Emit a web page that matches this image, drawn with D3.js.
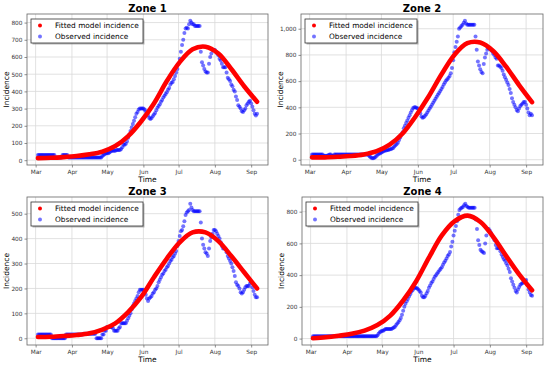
<!DOCTYPE html>
<html>
<head>
<meta charset="utf-8">
<script src="https://cdn.jsdelivr.net/npm/d3@7"></script>
<style>
  body { margin: 0; background: #fff; }
  text { font-family: "DejaVu Sans", sans-serif; }
</style>
</head>
<body>
<div id="chart"></div>
<script>
// observed daily incidence, starting 3 March 2020
var startDate = new Date(2020, 2, 3);
var fitStep = 11; // days between fitted values

var zoneNames = ["Zone 1", "Zone 2", "Zone 3", "Zone 4"];

var obsZone1 = [
  30,30,30,30,30,30,30,30,30,30,30,30,30,30,30,
  15,15,15,15,15,15,
  30,30,30,30,30,
  15,15,15,15,15,15,15,15,15,15,15,15,15,15,15,15,15,15,15,15,15,15,15,15,15,15,15,15,15,
  25,30,35,40,40,40,
  45,50,55,55,55,55,60,60,60,60,
  65,75,90,90,95,110,130,150,
  170,190,210,230,250,270,280,295,300,300,300,300,
  295,285,275,260,245,240,245,
  255,265,275,290,305,315,325,340,350,365,375,
  385,395,410,420,440,450,455,470,490,510,530,
  560,590,630,670,700,740,765,770,765,790,
  810,800,790,790,780,780,780,780,780,
  630,570,550,530,515,510,510,560,600,620,640,640,
  640,630,620,610,590,580,560,540,540,540,510,480,470,460,440,430,410,400,
  370,350,320,310,300,285,280,290,300,320,330,340,
  345,330,310,290,270,260,270
];
var obsZone2 = [
  40,40,40,40,40,40,40,40,40,40,
  30,30,30,30,35,40,40,30,30,
  40,40,40,40,40,40,40,40,40,40,40,40,40,40,40,40,40,40,40,40,40,40,40,40,40,40,40,40,
  40,35,25,18,12,12,15,
  20,30,40,45,50,55,60,
  65,70,70,75,75,80,80,85,90,100,110,
  120,130,150,170,190,210,240,260,280,
  300,320,340,360,380,395,400,400,395,390,
  375,355,330,320,325,335,345,
  360,375,390,405,420,435,450,465,480,495,510,
  525,540,555,575,590,605,615,625,640,660,700,
  760,820,860,900,940,1000,1010,1020,1030,1045,
  1060,1040,1030,1030,1030,1030,1030,1030,1030,
  940,840,750,720,690,670,660,730,780,810,840,850,
  850,840,830,810,800,780,770,720,720,710,700,680,650,630,610,590,570,540,
  510,470,440,420,400,380,370,390,410,420,430,440,
  440,420,390,360,340,350,340
];
var obsZone3 = [
  15,15,15,15,15,15,15,15,15,15,15,15,
  0,0,0,0,0,0,0,0,0,0,0,0,
  15,15,15,15,15,15,15,15,15,15,15,15,15,15,15,18,18,18,18,18,18,18,18,18,18,18,
  0,0,0,0,0,
  15,15,30,30,45,
  45,45,45,45,40,30,30,30,30,40,
  45,60,60,60,60,60,70,80,90,100,
  115,130,140,150,160,170,185,195,195,195,195,
  190,175,160,150,160,165,170,
  180,185,195,200,210,225,235,245,255,260,270,
  275,285,290,300,310,315,325,330,340,350,370,
  390,410,430,435,450,470,495,505,510,515,
  540,525,515,510,510,510,510,510,510,
  465,400,375,360,345,340,330,360,390,405,420,435,
  435,430,420,410,400,385,370,360,360,360,345,330,320,310,300,285,270,250,
  225,215,210,200,185,180,185,195,205,210,210,210,
  220,225,205,190,175,165,165
];
var obsZone4 = [
  15,15,15,15,15,15,15,15,15,15,15,15,15,15,15,15,15,15,15,15,15,15,15,15,15,15,15,
  15,15,15,15,15,15,15,15,15,15,15,15,15,15,15,15,15,15,15,15,15,15,15,15,15,15,15,
  15,20,30,40,45,50,50,
  55,60,60,60,60,60,60,65,70,75,
  85,95,105,115,130,150,175,200,220,
  235,250,265,280,295,305,315,320,320,315,310,
  300,290,270,260,260,270,285,
  300,320,335,350,360,375,390,400,410,420,430,
  440,450,465,480,490,505,520,530,545,580,610,
  650,680,710,740,780,810,820,825,830,840,
  850,835,830,825,825,825,825,825,825,
  750,690,620,590,560,550,545,540,600,650,690,690,
  680,665,650,635,620,590,570,570,570,550,530,515,500,490,475,460,440,420,
  380,360,340,320,300,290,310,325,340,345,350,355,
  365,370,340,310,290,275,270
];

// fitted model incidence, one value every 11 days from 3 March
var fitZone1 = [12,14,18,24,34,50,82,140,225,330,460,570,645,660,620,530,430,340];
var fitZone2 = [18,18,22,28,40,65,115,200,330,480,650,800,890,895,830,710,570,440];
var fitZone3 = [5,6,9,13,20,35,60,105,165,245,320,385,425,425,390,330,265,200];
var fitZone4 = [2,8,18,30,50,85,145,240,360,510,650,740,775,735,640,520,405,305];

var yTicks1 = [0,100,200,300,400,500,600,700,800];
var yTicks2 = [0,200,400,600,800,1000];
var yTicks3 = [0,100,200,300,400,500];
var yTicks4 = [0,200,400,600,800];

var observed = [obsZone1, obsZone2, obsZone3, obsZone4];
var fitted = [fitZone1, fitZone2, fitZone3, fitZone4];
var yTicks = [yTicks1, yTicks2, yTicks3, yTicks4];

var W = 550, H = 367;
var svg = d3.select("#chart").append("svg")
  .attr("width", W).attr("height", H);

// panel boxes
var boxes = [
  {x0: 27, x1: 268, y0: 14, y1: 165},
  {x0: 301, x1: 543, y0: 14, y1: 165},
  {x0: 27, x1: 268, y0: 197, y1: 345},
  {x0: 302, x1: 543, y0: 197, y1: 345}
];

zoneNames.forEach(function(name, k) {
  var b = boxes[k];
  var obs = observed[k].map(function(v, i) { return [d3.timeDay.offset(startDate, i), v]; });
  var fit = fitted[k].map(function(v, i) { return [d3.timeDay.offset(startDate, i * fitStep), v]; });

  var tExt = d3.extent(obs.concat(fit), function(d) { return d[0]; });
  var tPad = (tExt[1] - tExt[0]) * 0.05;
  var x = d3.scaleTime()
    .domain([new Date(+tExt[0] - tPad), new Date(+tExt[1] + tPad)])
    .range([b.x0, b.x1]);

  var vExt = d3.extent(obs.concat(fit), function(d) { return d[1]; });
  var vPad = (vExt[1] - vExt[0]) * 0.05;
  var y = d3.scaleLinear()
    .domain([vExt[0] - vPad, vExt[1] + vPad])
    .range([b.y1, b.y0]);

  var g = svg.append("g");

  // grid
  var xt = x.ticks(d3.timeMonth.every(1));
  g.selectAll(".gx").data(xt).enter().append("line")
    .attr("x1", function(d) { return x(d); }).attr("x2", function(d) { return x(d); })
    .attr("y1", b.y0).attr("y2", b.y1)
    .attr("stroke", "#d9d9d9").attr("stroke-width", 0.8);
  g.selectAll(".gy").data(yTicks[k]).enter().append("line")
    .attr("x1", b.x0).attr("x2", b.x1)
    .attr("y1", function(d) { return y(d); }).attr("y2", function(d) { return y(d); })
    .attr("stroke", "#d9d9d9").attr("stroke-width", 0.8);

  // axes
  var xAxis = g.append("g")
    .attr("transform", "translate(0," + b.y1 + ")")
    .call(d3.axisBottom(x).tickValues(xt).tickFormat(d3.timeFormat("%b")).tickSize(2.5).tickPadding(2));
  var yAxis = g.append("g")
    .attr("transform", "translate(" + b.x0 + ",0)")
    .call(d3.axisLeft(y).tickValues(yTicks[k]).tickFormat(d3.format(",")).tickSize(2.5).tickPadding(2));
  [xAxis, yAxis].forEach(function(a) {
    a.select(".domain").remove();
    a.selectAll("line").attr("stroke", "#444").attr("stroke-width", 0.6);
    a.selectAll("text").attr("font-size", 5.8).attr("fill", "#333")
      .attr("font-family", "DejaVu Sans, sans-serif");
  });

  // frame
  g.append("rect")
    .attr("x", b.x0).attr("y", b.y0)
    .attr("width", b.x1 - b.x0).attr("height", b.y1 - b.y0)
    .attr("fill", "none").attr("stroke", "#666").attr("stroke-width", 0.8);

  // observed points
  g.append("g").selectAll("circle").data(obs).enter().append("circle")
    .attr("cx", function(d) { return x(d[0]); })
    .attr("cy", function(d) { return y(d[1]); })
    .attr("r", 2)
    .attr("fill", "#0000ff").attr("fill-opacity", 0.55);

  // fitted curve
  g.append("path")
    .datum(fit)
    .attr("fill", "none")
    .attr("stroke", "#ff0000")
    .attr("stroke-width", 4.6)
    .attr("stroke-linecap", "round")
    .attr("d", d3.line()
      .curve(d3.curveCatmullRom)
      .x(function(d) { return x(d[0]); })
      .y(function(d) { return y(d[1]); }));

  // titles
  var cx = (b.x0 + b.x1) / 2;
  g.append("text").attr("x", cx).attr("y", b.y0 - 2.5)
    .attr("text-anchor", "middle").attr("font-size", 10).attr("font-weight", "bold")
    .text(name);
  g.append("text").attr("x", cx).attr("y", b.y1 + 17)
    .attr("text-anchor", "middle").attr("font-size", 7.5).text("Time");
  g.append("text")
    .attr("transform", "translate(" + (b.x0 - 18) + "," + ((b.y0 + b.y1) / 2) + ") rotate(-90)")
    .attr("text-anchor", "middle").attr("font-size", 7.5).text("Incidence");

  // legend
  var lx = b.x0 + 4, ly = b.y0 + 5;
  var leg = g.append("g");
  leg.append("rect").attr("x", lx + 1.5).attr("y", ly + 1.5).attr("width", 112).attr("height", 24)
    .attr("fill", "#888").attr("opacity", 0.6);
  leg.append("rect").attr("x", lx).attr("y", ly).attr("width", 112).attr("height", 24)
    .attr("fill", "#fff").attr("stroke", "#333").attr("stroke-width", 0.8);
  var items = [
    {label: "Fitted model incidence", color: "#ff0000", op: 1},
    {label: "Observed incidence", color: "#0000ff", op: 0.55}
  ];
  items.forEach(function(it, i) {
    var yy = ly + 6.5 + i * 11;
    leg.append("circle").attr("cx", lx + 9).attr("cy", yy).attr("r", 2)
      .attr("fill", it.color).attr("fill-opacity", it.op);
    leg.append("text").attr("x", lx + 24).attr("y", yy + 2.6)
      .attr("font-size", 7.4).text(it.label);
  });
});
</script>
</body>
</html>
